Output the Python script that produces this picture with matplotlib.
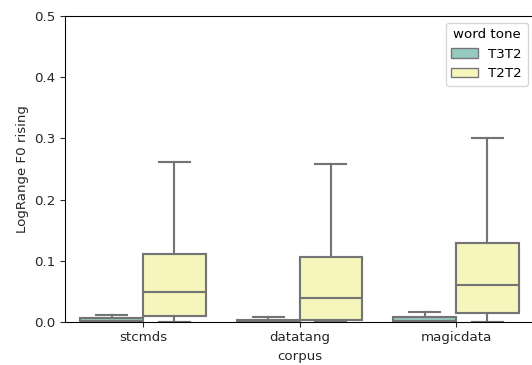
import matplotlib
matplotlib.use("Agg")
import matplotlib.pyplot as plt
from matplotlib.patches import Patch
import seaborn as sns

corpora = ["stcmds", "datatang", "magicdata"]
tones = ["T3T2", "T2T2"]

# box statistics per tone, one entry per corpus (outliers hidden)
t3t2_q1 = [0.0, 0.0, 0.0]
t3t2_med = [0.001, 0.001, 0.001]
t3t2_q3 = [0.006, 0.003, 0.008]
t3t2_lo = [0.0, 0.0, 0.0]
t3t2_hi = [0.0115, 0.0087, 0.016]

t2t2_q1 = [0.010, 0.004, 0.014]
t2t2_med = [0.049, 0.039, 0.060]
t2t2_q3 = [0.111, 0.106, 0.129]
t2t2_lo = [0.0, 0.0, 0.0]
t2t2_hi = [0.262, 0.258, 0.300]

pal = [sns.desaturate(c, 0.75) for c in sns.color_palette("Set3", 2)]
gray = "#747474"

dpi = 96
fig = plt.figure(figsize=(532 / dpi, 365 / dpi), dpi=dpi)
ax = fig.add_axes([64.75 / 532, 43 / 365, 469.5 / 532, 306 / 365])

groups = [
    (t3t2_q1, t3t2_med, t3t2_q3, t3t2_lo, t3t2_hi),
    (t2t2_q1, t2t2_med, t2t2_q3, t2t2_lo, t2t2_hi),
]
width = 0.4
for j, (q1, med, q3, lo, hi) in enumerate(groups):
    stats = []
    for i in range(len(corpora)):
        stats.append(dict(q1=q1[i], med=med[i], q3=q3[i],
                          whislo=lo[i], whishi=hi[i], fliers=[]))
    pos = [i - width / 2 + j * width for i in range(len(corpora))]
    ax.bxp(stats, positions=pos, widths=width, patch_artist=True,
           showfliers=False, manage_ticks=False,
           boxprops=dict(facecolor=pal[j], edgecolor=gray, linewidth=1.6),
           medianprops=dict(color=gray, linewidth=1.6),
           whiskerprops=dict(color=gray, linewidth=1.6),
           capprops=dict(color=gray, linewidth=1.6))

ax.set_xlim(-0.5, 2.5)
ax.set_ylim(0, 0.5)
ax.set_xticks(range(len(corpora)))
ax.set_xticklabels(corpora)
ax.set_yticks([0, 0.1, 0.2, 0.3, 0.4, 0.5])
ax.tick_params(labelsize=10, colors="#262626", labelcolor="#262626")
ax.set_xlabel("corpus", fontsize=10, color="#262626")
ax.set_ylabel("LogRange F0 rising", fontsize=10, color="#262626")

handles = [Patch(facecolor=pal[k], edgecolor=gray, linewidth=1, label=tones[k])
           for k in range(len(tones))]
ax.legend(handles=handles, title="word tone", loc="upper right",
          fontsize=10, title_fontsize=10)

fig.savefig("out.png", dpi=dpi)
